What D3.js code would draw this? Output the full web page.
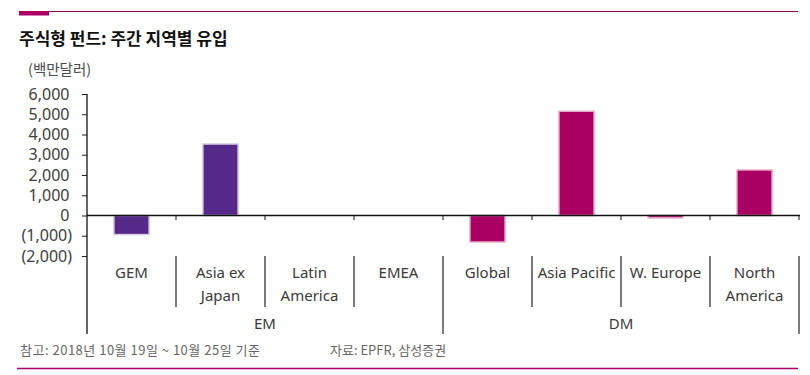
<!DOCTYPE html>
<html>
<head>
<meta charset="utf-8">
<script src="https://cdn.jsdelivr.net/npm/d3@7"></script>
<style>
  html, body { margin: 0; padding: 0; background: #fff; }
  svg { display: block; }
  .lat { font-family: "Noto Sans", "Open Sans", sans-serif; }
  .kr { font-family: "Noto Sans CJK KR", "Noto Sans", sans-serif; }
</style>
</head>
<body>
<svg id="chart" width="810" height="375"></svg>
<script>
// ---- data ----
const categories = ["GEM", "Asia ex Japan", "Latin America", "EMEA", "Global", "Asia Pacific", "W. Europe", "North America"];
const categoryLines = [["GEM"], ["Asia ex", "Japan"], ["Latin", "America"], ["EMEA"], ["Global"], ["Asia Pacific"], ["W. Europe"], ["North", "America"]];
const groups = ["EM", "EM", "EM", "EM", "DM", "DM", "DM", "DM"];
const groupNames = ["EM", "DM"];
const values = [-940, 3530, 0, 0, -1310, 5150, -120, 2250];
const yTicks = [6000, 5000, 4000, 3000, 2000, 1000, 0, -1000, -2000];
const yTickLabels = ["6,000", "5,000", "4,000", "3,000", "2,000", "1,000", "0", "(1,000)", "(2,000)"];
const title = "주식형 펀드: 주간 지역별 유입";
const unitLabel = "(백만달러)";
const noteText = "참고: 2018년 10월 19일 ~ 10월 25일 기준";
const sourceText = "자료: EPFR, 삼성증권";

const fill = { EM: "#55298a", DM: "#ab0063" };
const edge = { EM: "#d2c8df", DM: "#e8b4d0" };

const svg = d3.select("#chart");

// header rules
svg.append("line").attr("x1", 49).attr("x2", 798).attr("y1", 11.5).attr("y2", 11.5)
  .attr("stroke", "#8e0b5c").attr("stroke-width", 1.2);
svg.append("rect").attr("x", 19).attr("y", 11).attr("width", 30).attr("height", 4.5).attr("fill", "#ab0063");

svg.append("text").attr("class", "kr").attr("x", 19).attr("y", 45)
  .attr("font-size", 17).attr("font-weight", 700).attr("fill", "#111").text(title);

svg.append("text").attr("class", "kr").attr("x", 28).attr("y", 75)
  .attr("font-size", 14.5).attr("fill", "#4a4a4a").text(unitLabel);

// scales
const x = d3.scaleBand().domain(categories).range([87, 799]);
const y = d3.scaleLinear().domain([-2000, 6000]).range([256, 94]);

// y axis
const yAxis = d3.axisLeft(y).tickValues(yTicks).tickSize(5)
  .tickFormat((d) => yTickLabels[yTicks.indexOf(d)]);
const gy = svg.append("g").attr("transform", "translate(87,0)").call(yAxis);
gy.select(".domain").remove();
gy.selectAll(".tick line").attr("stroke", "#222").attr("stroke-width", 1);
gy.selectAll(".tick text")
  .attr("class", "lat")
  .attr("font-size", 16)
  .attr("fill", "#404040")
  .attr("x", (d) => d < 0 ? -15 : -17.5)
  .attr("dy", "0.32em");

// bars
const bw = x.bandwidth() * 0.395;
svg.append("g").selectAll("rect").data(categories).join("rect")
  .attr("x", (c) => x(c) + (x.bandwidth() - bw) / 2)
  .attr("y", (c, i) => y(Math.max(0, values[i])))
  .attr("width", bw)
  .attr("height", (c, i) => Math.abs(y(values[i]) - y(0)))
  .attr("fill", (c, i) => fill[groups[i]])
  .attr("stroke", (c, i) => edge[groups[i]])
  .attr("stroke-width", (c, i) => values[i] === 0 ? 0 : 1.5);

// vertical axis line through label table
svg.append("line").attr("x1", 87).attr("x2", 87).attr("y1", y(6000)).attr("y2", 334)
  .attr("stroke", "#111").attr("stroke-width", 1.3);

// zero line
svg.append("line").attr("x1", 87).attr("x2", 800).attr("y1", y(0)).attr("y2", y(0))
  .attr("stroke", "#111").attr("stroke-width", 1.6);
// zero-line ticks at category boundaries
svg.append("g").selectAll("line").data(categories).join("line")
  .attr("x1", (c) => x(c) + x.bandwidth()).attr("x2", (c) => x(c) + x.bandwidth())
  .attr("y1", y(0)).attr("y2", y(0) + 4.5)
  .attr("stroke", "#333").attr("stroke-width", 1.2);

// category table separators
svg.append("g").selectAll("line").data(categories).join("line")
  .attr("x1", (c) => x(c) + x.bandwidth()).attr("x2", (c) => x(c) + x.bandwidth())
  .attr("y1", 256)
  .attr("y2", (c, i) => (i === categories.length - 1 || groups[i] !== groups[i + 1]) ? 334 : 307)
  .attr("stroke", "#333").attr("stroke-width", 1.3);

// category labels
const lab = svg.append("g").selectAll("text").data(categories).join("text")
  .attr("class", "lat")
  .attr("text-anchor", "middle")
  .attr("font-size", 15)
  .attr("fill", "#3a3a3a")
  .attr("x", (c) => x(c) + x.bandwidth() / 2)
  .attr("y", 278);
lab.each(function (c, i) {
  const t = d3.select(this);
  categoryLines[i].forEach((ln, k) => {
    t.append("tspan").attr("x", x(c) + x.bandwidth() / 2).attr("dy", k === 0 ? 0 : 23).text(ln);
  });
});

// group labels
groupNames.forEach((g) => {
  const members = categories.filter((c, i) => groups[i] === g);
  const x0 = x(members[0]);
  const x1 = x(members[members.length - 1]) + x.bandwidth();
  svg.append("text").attr("class", "lat").attr("text-anchor", "middle")
    .attr("font-size", 15).attr("fill", "#3a3a3a")
    .attr("x", (x0 + x1) / 2).attr("y", 329).text(g);
});

// footer
svg.append("text").attr("class", "kr").attr("x", 20).attr("y", 355)
  .attr("font-size", 13).attr("letter-spacing", 0.5).attr("fill", "#666").text(noteText);
svg.append("text").attr("class", "kr").attr("x", 330).attr("y", 355)
  .attr("font-size", 13).attr("fill", "#666").text(sourceText);
svg.append("line").attr("x1", 17).attr("x2", 798).attr("y1", 368.5).attr("y2", 368.5)
  .attr("stroke", "#b0006a").attr("stroke-width", 1.3);
</script>
</body>
</html>
